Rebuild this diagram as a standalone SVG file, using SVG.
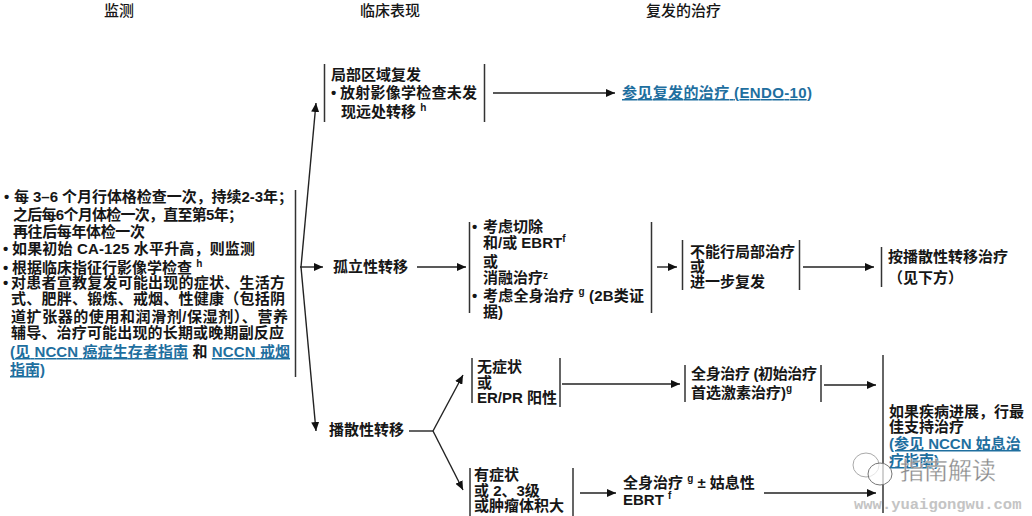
<svg xmlns="http://www.w3.org/2000/svg" width="1032" height="516" viewBox="0 0 1032 516">
<style>
text{font-family:"Liberation Sans","Noto Sans CJK SC",sans-serif;font-size:15px;font-weight:700;fill:#161616}
.h{font-weight:500;font-size:15px}
.l{fill:#1f6f9f;text-decoration:underline}
.s{font-size:10px}
.b{stroke:#333;stroke-width:1.5;fill:none}
.c{stroke:#222;stroke-width:1.4;fill:none}
.a{marker-end:url(#ah)}
.wm{fill:#8a8a8a;font-weight:400;font-size:24px;stroke:#fff;stroke-width:.3}
.wu{fill:#c4c4c4;font-family:"Liberation Mono",monospace;font-size:15.5px;font-weight:700}
</style>
<defs>
<marker id="ah" markerUnits="userSpaceOnUse" markerWidth="10" markerHeight="8" refX="9" refY="4" orient="auto"><path d="M0 0L9 4L0 8Z" fill="#111"/></marker>
</defs>
<rect width="1032" height="516" fill="#fff"/>
<g id="headers">
<text class="h" x="104" y="16">监测</text>
<text class="h" x="360" y="16">临床表现</text>
<text class="h" x="646" y="16">复发的治疗</text>
</g>
<g id="connectors">
<path class="c a" d="M301 267L316 103"/>
<path class="c a" d="M301 267L316 431"/>
<path class="c a" d="M300 267H323"/>
<path class="c a" d="M493 93H615"/>
<path class="c a" d="M417 267H466"/>
<path class="c a" d="M657 267H677"/>
<path class="c a" d="M803 267H874"/>
<path class="c" d="M409 431H433"/>
<path class="c a" d="M433 431L463 375"/>
<path class="c a" d="M433 431L463 490"/>
<path class="c a" d="M562 384H680"/>
<path class="c a" d="M824 385H876"/>
<path class="c a" d="M580 493H616"/>
<path class="c a" d="M764 493H876"/>
</g>
<g id="monitoring">
<path class="b" d="M295.500 190V377"/>
<text x="4" y="202">•</text><text x="14" y="202" textLength="279">每 3–6 个月行体格检查一次，持续2-3年；</text>
<text x="13" y="220" textLength="230">之后每6个月体检一次，直至第5年；</text>
<text x="13" y="237" textLength="132">再往后每年体检一次</text>
<text x="3" y="254">•</text><text x="12" y="254" textLength="243">如果初始 CA-125 水平升高，则监测</text>
<text x="3" y="273">•</text><text x="12" y="273">根据临床指征行影像学检查 <tspan class="s" dy="-6">h</tspan></text>
<text x="3" y="288">•</text><text x="11" y="288" textLength="274">对患者宣教复发可能出现的症状、生活方</text>
<text x="11" y="304" textLength="274">式、肥胖、锻炼、戒烟、性健康（包括阴</text>
<text x="11" y="322" textLength="277">道扩张器的使用和润滑剂/保湿剂）、营养</text>
<text x="11" y="338" textLength="273">辅导、治疗可能出现的长期或晚期副反应</text>
<text x="10" y="357" textLength="280"><tspan class="l">(见 NCCN 癌症生存者指南</tspan> 和 <tspan class="l">NCCN 戒烟</tspan></text>
<text class="l" x="10" y="375">指南)</text>
</g>
<g id="local">
<path class="b" d="M324.500 64V122M484.500 64V122"/>
<text x="331" y="80">局部区域复发</text>
<text x="331" y="98">•</text><text x="340" y="98" textLength="137">放射影像学检查未发</text>
<text x="341" y="117">现远处转移 <tspan class="s" dy="-6">h</tspan></text>
</g>
<g id="local-treatment">
<text class="l" x="622" y="98" textLength="190">参见复发的治疗 (ENDO-10)</text>
</g>
<g id="isolated">
<text x="333" y="272">孤立性转移</text>
</g>
<g id="isolated-treatment">
<path class="b" d="M469.500 222V313M651.500 222V313"/>
<text x="472" y="232">•</text><text x="483" y="232">考虑切除</text>
<text x="483" y="248">和/或 EBRT<tspan class="s" dy="-6">f</tspan></text>
<text x="483" y="267">或</text>
<text x="483" y="283">消融治疗<tspan class="s" dy="-4">z</tspan></text>
<text x="472" y="301">•</text><text x="483" y="301" textLength="161">考虑全身治疗 <tspan class="s" dy="-6">g</tspan><tspan dy="6"> (2B类证</tspan></text>
<text x="483" y="317">据)</text>
</g>
<g id="no-local">
<path class="b" d="M682.500 240V290M799.500 240V290"/>
<text x="690" y="257">不能行局部治疗</text>
<text x="690" y="272">或</text>
<text x="690" y="287">进一步复发</text>
</g>
<g id="as-disseminated">
<path class="b" d="M881.500 247V287"/>
<text x="888" y="262">按播散性转移治疗</text>
<text x="888" y="283">（见下方）</text>
</g>
<g id="disseminated">
<text x="329" y="435">播散性转移</text>
</g>
<g id="asymptomatic">
<path class="b" d="M472 358V403M560 358V407"/>
<text x="477" y="372">无症状</text>
<text x="477" y="388">或</text>
<text x="477" y="403">ER/PR 阳性</text>
</g>
<g id="systemic-hormone">
<path class="b" d="M685 365V402M821 365V402"/>
<text x="691" y="379" textLength="126">全身治疗 (初始治疗</text>
<text x="691" y="398">首选激素治疗)<tspan class="s" dy="-6">g</tspan></text>
</g>
<g id="symptomatic">
<path class="b" d="M470 468V516M573 468V516"/>
<text x="474" y="480">有症状</text>
<text x="474" y="496">或 2、3级</text>
<text x="474" y="511">或肿瘤体积大</text>
</g>
<g id="systemic-palliative">
<text x="623" y="488">全身治疗 <tspan class="s" dy="-6">g</tspan><tspan dy="6"> ± 姑息性</tspan></text>
<text x="623" y="505">EBRT <tspan class="s" dy="-6">f</tspan></text>
</g>
<g id="best-support">
<path class="b" d="M883 355V513" stroke-width="2"/>
<text x="889" y="417">如果疾病进展，行最</text>
<text x="889" y="432">佳支持治疗</text>
<text class="l" x="889" y="449">(参见 NCCN 姑息治</text>
<text class="l" x="889" y="466">疗指南)</text>
</g>
<g id="watermark">
<ellipse cx="866" cy="465" rx="13" ry="12" fill="#fff" fill-opacity=".7" stroke="#aaa" stroke-width="1"/>
<ellipse cx="880" cy="474" rx="12" ry="11" fill="#fff" fill-opacity=".7" stroke="#777" stroke-width="1"/>
<text class="wm" x="900" y="479">指南解读</text>
<text class="wu" x="854" y="509">www.yuaigongwu.com</text>
</g>
</svg>
